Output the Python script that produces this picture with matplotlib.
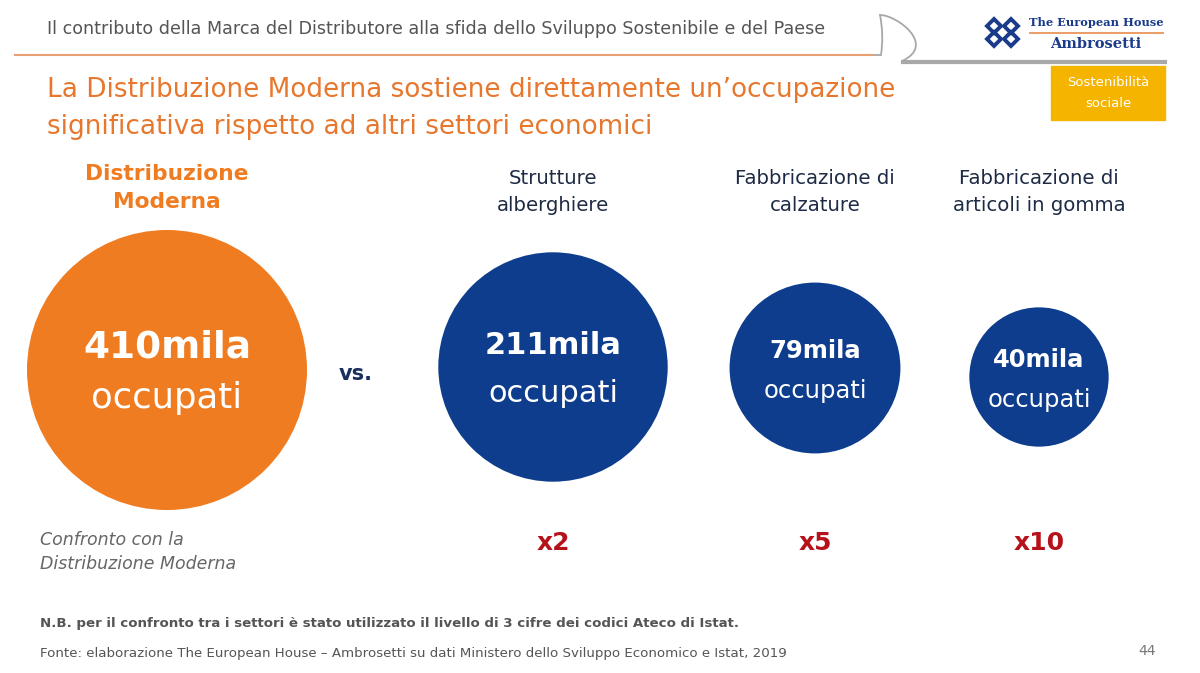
import matplotlib
matplotlib.use("Agg")
import matplotlib.pyplot as plt
from matplotlib.patches import Circle, Rectangle, Polygon, PathPatch
from matplotlib.path import Path

# data
sectors = ["Distribuzione\nModerna", "Strutture\nalberghiere",
           "Fabbricazione di\ncalzature", "Fabbricazione di\narticoli in gomma"]
occupati = [410, 211, 79, 40]          # migliaia di occupati
multipli = ["", "x2", "x5", "x10"]

ORANGE = "#F07C22"
BLUE = "#0D3D8C"
NAVY = "#1B2F5E"
RED = "#B5121B"
GREY = "#555555"

fig = plt.figure(figsize=(12, 6.73), dpi=100)
ax = fig.add_axes([0, 0, 1, 1])
ax.set_xlim(0, 1200)
ax.set_ylim(673, 0)
ax.axis("off")

# header
ax.text(47, 29, "Il contributo della Marca del Distributore alla sfida dello Sviluppo Sostenibile e del Paese",
        fontsize=12.6, color=GREY, va="center", ha="left")
ax.plot([15, 872], [55, 55], color="#E9A070", lw=1.5)
swoosh = Path([(872, 55), (881, 55), (884, 35), (880, 15),
               (897, 15), (937, 45), (902, 61), (1165, 61)],
              [Path.MOVETO, Path.LINETO, Path.CURVE3, Path.CURVE3,
               Path.CURVE4, Path.CURVE4, Path.CURVE4, Path.LINETO])
ax.add_patch(PathPatch(swoosh, fill=False, ec="#A8A8A8", lw=1.3))
ax.plot([903, 1165], [62, 62], color="#A8A8A8", lw=3)

# logo
for cx, cy in [(994, 26), (994, 39), (1011, 26), (1011, 39)]:
    d = 7
    ax.add_patch(Polygon([(cx - d, cy), (cx, cy - d), (cx + d, cy), (cx, cy + d)],
                         closed=True, fill=False, ec="#1A3A8A", lw=2.8))
ax.text(1096, 22, "The European House", fontsize=8.2, family="DejaVu Serif",
        weight="bold", color="#1A3A8A", ha="center", va="center")
ax.plot([1030, 1163], [33, 33], color="#E9935A", lw=1.3)
ax.text(1096, 44, "Ambrosetti", fontsize=10.5, family="DejaVu Serif",
        weight="bold", color="#1A3A8A", ha="center", va="center")

# tag box
ax.add_patch(Rectangle((1051, 66), 114, 54, color="#F5B400"))
ax.text(1108, 93, "Sostenibilità\nsociale", fontsize=9.5, color="white",
        ha="center", va="center", linespacing=1.75)

# title
ax.text(47, 90, "La Distribuzione Moderna sostiene direttamente un’occupazione",
        fontsize=18.9, color="#E8772E", va="center", ha="left")
ax.text(47, 127, "significativa rispetto ad altri settori economici",
        fontsize=18.9, color="#E8772E", va="center", ha="left")

# circles
centers_x = [167, 553, 815, 1039]
centers_y = [370, 367, 368, 377]
r_max = 140
for i, v in enumerate(occupati):
    r = r_max * (v / occupati[0]) ** 0.3
    cx, cy = centers_x[i], centers_y[i]
    col = ORANGE if i == 0 else BLUE
    ax.add_patch(Circle((cx, cy), r, color=col, ec="none"))
    big = [27, 22, 17.5, 17.5][i]
    small = [25.5, 22, 17.5, 17.5][i]
    dy = [22, 21, 17, 17][i]
    ax.text(cx, cy - dy, f"{v}mila", fontsize=big, weight="bold", color="white",
            ha="center", va="center")
    ax.text(cx, cy + dy + 6, "occupati", fontsize=small, color="white",
            ha="center", va="center")
    # labels above
    if i == 0:
        ax.text(cx, 188, sectors[i], fontsize=15.7, weight="bold", color=ORANGE,
                ha="center", va="center", linespacing=1.5)
    else:
        ax.text(cx, 192, sectors[i], fontsize=14.2, color="#1E2B45",
                ha="center", va="center", linespacing=1.55)
        ax.text(cx, 543, multipli[i], fontsize=18, weight="bold", color=RED,
                ha="center", va="center")

ax.text(356, 374, "vs.", fontsize=15, weight="bold", color=NAVY,
        ha="center", va="center")

ax.text(40, 552, "Confronto con la\nDistribuzione Moderna", fontsize=12.5,
        style="italic", color="#666666", ha="left", va="center", linespacing=1.4)

# footer
ax.text(40, 624, "N.B. per il confronto tra i settori è stato utilizzato il livello di 3 cifre dei codici Ateco di Istat.",
        fontsize=9.6, weight="bold", color=GREY, ha="left", va="center")
ax.text(40, 653, "Fonte: elaborazione The European House – Ambrosetti su dati Ministero dello Sviluppo Economico e Istat, 2019",
        fontsize=9.6, color=GREY, ha="left", va="center")
ax.text(1147, 651, "44", fontsize=10, color="#777777", ha="center", va="center")

fig.savefig("out.png", dpi=100)
